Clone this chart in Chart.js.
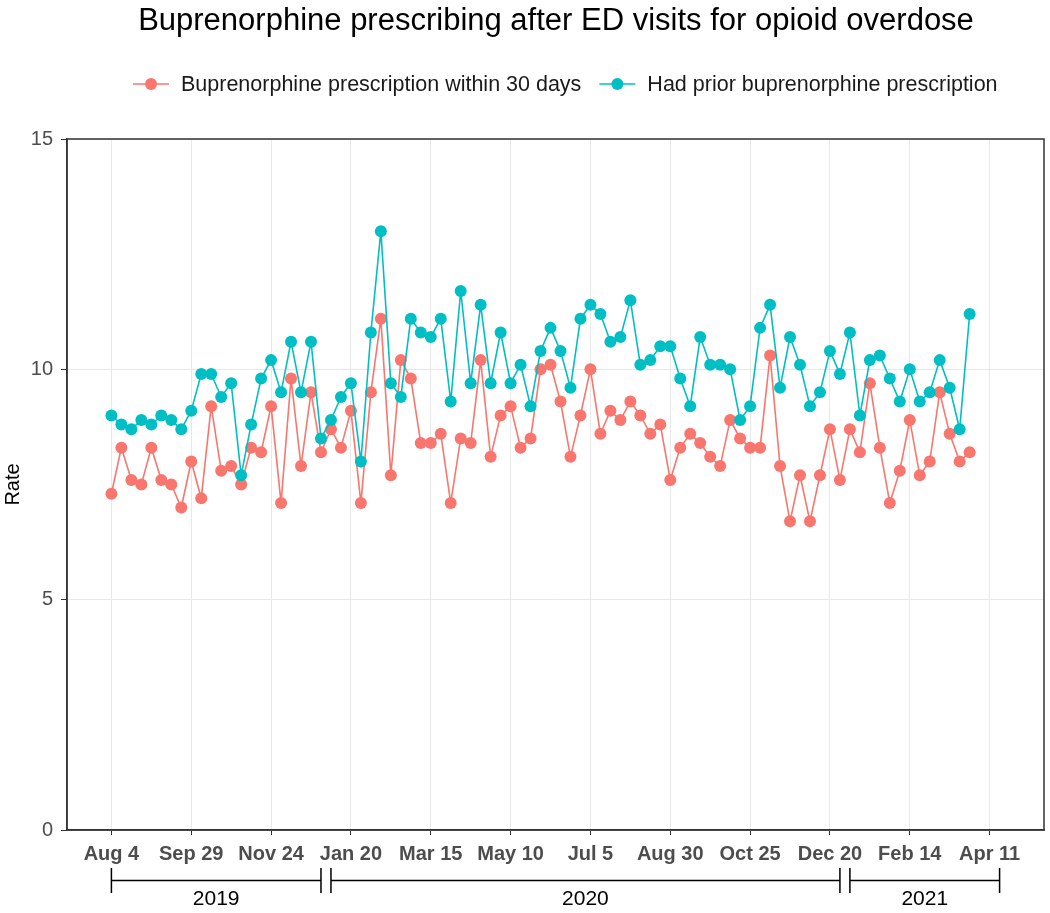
<!DOCTYPE html>
<html>
<head>
<meta charset="utf-8">
<script src="https://cdn.jsdelivr.net/npm/chart.js@4.4.1/dist/chart.umd.min.js"></script>
<style>
  body { margin: 0; background: #fff; }
  canvas { display: block; }
</style>
</head>
<body>
<canvas id="rateChart" width="1050" height="913"></canvas>
<script>
// Weekly rates, first week = Aug 4 2019
var within30 = [7.3, 8.3, 7.6, 7.5, 8.3, 7.6, 7.5, 7.0, 8.0, 7.2,
    9.2, 7.8, 7.9, 7.5, 8.3, 8.2, 9.2, 7.1, 9.8, 7.9,
    9.5, 8.2, 8.7, 8.3, 9.1, 7.1, 9.5, 11.1, 7.7, 10.2,
    9.8, 8.4, 8.4, 8.6, 7.1, 8.5, 8.4, 10.2, 8.1, 9.0,
    9.2, 8.3, 8.5, 10.0, 10.1, 9.3, 8.1, 9.0, 10.0, 8.6,
    9.1, 8.9, 9.3, 9.0, 8.6, 8.8, 7.6, 8.3, 8.6, 8.4,
    8.1, 7.9, 8.9, 8.5, 8.3, 8.3, 10.3, 7.9, 6.7, 7.7,
    6.7, 7.7, 8.7, 7.6, 8.7, 8.2, 9.7, 8.3, 7.1, 7.8,
    8.9, 7.7, 8.0, 9.5, 8.6, 8.0, 8.2];
var priorBup = [9.0, 8.8, 8.7, 8.9, 8.8, 9.0, 8.9, 8.7, 9.1, 9.9,
    9.9, 9.4, 9.7, 7.7, 8.8, 9.8, 10.2, 9.5, 10.6, 9.5,
    10.6, 8.5, 8.9, 9.4, 9.7, 8.0, 10.8, 13.0, 9.7, 9.4,
    11.1, 10.8, 10.7, 11.1, 9.3, 11.7, 9.7, 11.4, 9.7, 10.8,
    9.7, 10.1, 9.2, 10.4, 10.9, 10.4, 9.6, 11.1, 11.4, 11.2,
    10.6, 10.7, 11.5, 10.1, 10.2, 10.5, 10.5, 9.8, 9.2, 10.7,
    10.1, 10.1, 10.0, 8.9, 9.2, 10.9, 11.4, 9.6, 10.7, 10.1,
    9.2, 9.5, 10.4, 9.9, 10.8, 9.0, 10.2, 10.3, 9.8, 9.3,
    10.0, 9.3, 9.5, 10.2, 9.6, 8.7, 11.2];

// x tick labels every 8 weeks
var tickWeeks = [0, 8, 16, 24, 32, 40, 48, 56, 64, 72, 80, 88];
var tickLabels = ['Aug 4', 'Sep 29', 'Nov 24', 'Jan 20', 'Mar 15', 'May 10',
    'Jul 5', 'Aug 30', 'Oct 25', 'Dec 20', 'Feb 14', 'Apr 11'];
var yTicks = [0, 5, 10, 15];

// year brackets under the axis (in weeks)
var years = ['2019', '2020', '2021'];
var yearStart = [0, 22, 74];
var yearEnd = [21, 73, 89];

var seriesNames = ['Buprenorphine prescription within 30 days', 'Had prior buprenorphine prescription'];
var seriesColors = ['#F8766D', '#00BFC4'];

function toPoints(values) {
    return values.map(function (v, i) { return {x: i, y: v}; });
}

var font = 'Arial, "Liberation Sans", sans-serif';

// title, legend, panel frame and year brackets
var extras = {
    id: 'extras',
    afterDraw: function (chart) {
        var c = chart.ctx;
        var area = chart.chartArea;
        var xs = chart.scales.x;
        c.save();

        // panel frame
        c.strokeStyle = '#333333';
        c.lineWidth = 1.5;
        c.strokeRect(area.left, area.top, area.right - area.left, area.bottom - area.top);

        // title
        c.fillStyle = '#000000';
        c.font = '31px ' + font;
        c.textAlign = 'center';
        c.textBaseline = 'middle';
        c.fillText('Buprenorphine prescribing after ED visits for opioid overdose', 556, 21);

        // legend
        c.font = '21.5px ' + font;
        c.textAlign = 'left';
        var x = 133, y = 84;
        for (var i = 0; i < seriesNames.length; i++) {
            c.strokeStyle = seriesColors[i];
            c.fillStyle = seriesColors[i];
            c.lineWidth = 1.6;
            c.beginPath();
            c.moveTo(x, y);
            c.lineTo(x + 36, y);
            c.stroke();
            c.beginPath();
            c.arc(x + 18, y, 6, 0, Math.PI * 2);
            c.fill();
            c.fillStyle = '#1a1a1a';
            c.fillText(seriesNames[i], x + 48, y + 1);
            x += 48 + c.measureText(seriesNames[i]).width + 18;
        }

        // year brackets
        c.strokeStyle = '#000000';
        c.fillStyle = '#000000';
        c.lineWidth = 1.5;
        c.font = '21px ' + font;
        c.textAlign = 'center';
        for (var j = 0; j < years.length; j++) {
            var x1 = xs.getPixelForValue(yearStart[j]);
            var x2 = xs.getPixelForValue(yearEnd[j]);
            c.beginPath();
            c.moveTo(x1, 868); c.lineTo(x1, 893);
            c.moveTo(x2, 868); c.lineTo(x2, 893);
            c.moveTo(x1, 880.5); c.lineTo(x2, 880.5);
            c.stroke();
            c.fillText(years[j], (x1 + x2) / 2, 899);
        }
        c.restore();
    }
};

new Chart(document.getElementById('rateChart'), {
    type: 'line',
    data: {
        datasets: [
            {
                label: seriesNames[0],
                data: toPoints(within30),
                borderColor: seriesColors[0],
                backgroundColor: seriesColors[0],
                borderWidth: 1.6,
                pointRadius: 6,
                pointBorderWidth: 0,
                order: 2
            },
            {
                label: seriesNames[1],
                data: toPoints(priorBup),
                borderColor: seriesColors[1],
                backgroundColor: seriesColors[1],
                borderWidth: 1.6,
                pointRadius: 6,
                pointBorderWidth: 0,
                order: 1
            }
        ]
    },
    options: {
        responsive: false,
        animation: false,
        layout: { padding: { top: 139, right: 3, bottom: 0, left: 0 } },
        plugins: {
            legend: { display: false },
            title: { display: false },
            tooltip: { enabled: false }
        },
        scales: {
            x: {
                type: 'linear',
                min: -4.45,
                max: 93.45,
                afterBuildTicks: function (s) {
                    s.ticks = tickWeeks.map(function (v) { return {value: v}; });
                },
                afterFit: function (s) { s.height = 83; },
                grid: { color: '#e8e8e8', lineWidth: 1, tickColor: '#333333', tickLength: 5 },
                border: { color: '#333333', width: 1.5 },
                ticks: {
                    autoSkip: false,
                    maxRotation: 0,
                    padding: 7,
                    color: '#4d4d4d',
                    font: { family: font, size: 20, weight: 'bold' },
                    callback: function (v, i) { return tickLabels[i]; }
                }
            },
            y: {
                min: 0,
                max: 15,
                afterBuildTicks: function (s) {
                    s.ticks = yTicks.map(function (v) { return {value: v}; });
                },
                afterFit: function (s) { s.width = 67; },
                grid: { color: '#e8e8e8', lineWidth: 1, tickColor: '#333333', tickLength: 6 },
                border: { color: '#333333', width: 1.5 },
                ticks: {
                    padding: 8,
                    color: '#4d4d4d',
                    font: { family: font, size: 20 }
                },
                title: {
                    display: true,
                    text: 'Rate',
                    color: '#000000',
                    padding: { top: 1, bottom: 0 },
                    font: { family: font, size: 20 }
                }
            }
        }
    },
    plugins: [extras]
});
</script>
</body>
</html>
